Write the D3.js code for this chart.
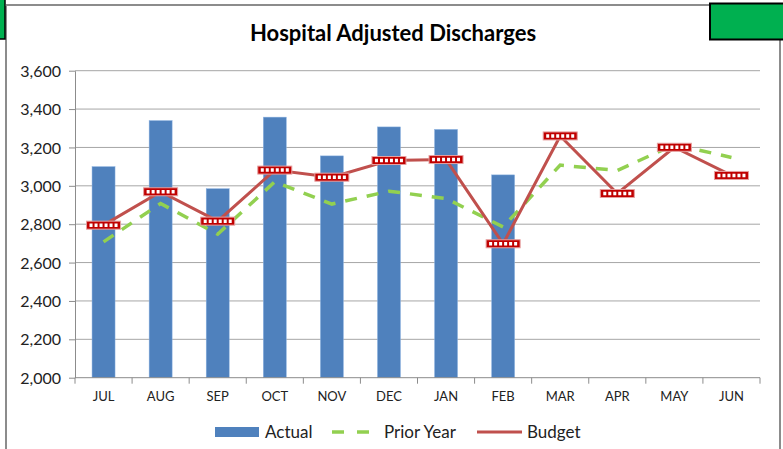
<!DOCTYPE html>
<meta charset="utf-8">
<script src="https://d3js.org/d3.v7.min.js"></script>
<style>
  body { margin: 0; background: #fff; }
  text { font-family: Lato, "Open Sans", sans-serif; fill: #222; }
</style>
<body></body>
<script>

var months = ["JUL", "AUG", "SEP", "OCT", "NOV", "DEC", "JAN", "FEB", "MAR", "APR", "MAY", "JUN"];
var actual = [3100, 3340, 2985, 3358, 3156, 3307, 3294, 3057];
var priorYear = [2708, 2908, 2748, 3021, 2905, 2972, 2934, 2786, 3108, 3080, 3215, 3148];
var budget = [2795, 2969, 2816, 3082, 3045, 3132, 3137, 2698, 3260, 2960, 3201, 3054];
var yTicks = [2000, 2200, 2400, 2600, 2800, 3000, 3200, 3400, 3600];

var W = 783, H = 449;
var plotLeft = 75, plotRight = 760, plotTop = 70.7, plotBottom = 377.7;

var svg = d3.select("body").append("svg")
  .attr("width", W)
  .attr("height", H);

// outer frame and the green boxes
svg.append("rect").attr("x", 0).attr("y", 0).attr("width", W).attr("height", H).attr("fill", "#fff");
svg.append("line").attr("x1", 6).attr("x2", 6).attr("y1", 6).attr("y2", H).attr("stroke", "#8c8c8c").attr("stroke-width", 2);
svg.append("line").attr("x1", 6).attr("x2", 780).attr("y1", 5).attr("y2", 5).attr("stroke", "#8c8c8c").attr("stroke-width", 2);
svg.append("line").attr("x1", 780).attr("x2", 780).attr("y1", 5).attr("y2", H).attr("stroke", "#8c8c8c").attr("stroke-width", 2);
svg.append("rect").attr("x", -2).attr("y", -2).attr("width", 7).attr("height", 41)
  .attr("fill", "#00b050").attr("stroke", "#000").attr("stroke-width", 1.5);
svg.append("rect").attr("x", 710).attr("y", 3.5).attr("width", 76).attr("height", 36)
  .attr("fill", "#00b050").attr("stroke", "#000").attr("stroke-width", 2);

svg.append("text")
  .attr("x", 393).attr("y", 41)
  .attr("text-anchor", "middle")
  .style("font-size", "22px")
  .style("font-weight", "bold")
  .style("fill", "#000")
  .text("Hospital Adjusted Discharges");

var x = d3.scaleBand().domain(months).range([plotLeft, plotRight]);
var y = d3.scaleLinear().domain([2000, 3600]).range([plotBottom, plotTop]);

// gridlines
svg.append("g")
  .selectAll("line")
  .data(yTicks.slice(1))
  .enter().append("line")
  .attr("x1", plotLeft).attr("x2", plotRight)
  .attr("y1", d => y(d)).attr("y2", d => y(d))
  .attr("stroke", "#a6a6a6").attr("stroke-width", 1);

var yAxis = d3.axisLeft(y).tickValues(yTicks).tickFormat(d3.format(",")).tickSizeInner(6).tickSizeOuter(0);
var yAxisGroup = svg.append("g")
  .attr("transform", `translate(${plotLeft},0)`)
  .call(yAxis);
yAxisGroup.select(".domain").attr("stroke", "#8c8c8c");
yAxisGroup.selectAll(".tick line").attr("stroke", "#8c8c8c");
yAxisGroup.selectAll("text").attr("x", -14).attr("dy", "0.35em")
  .style("font-size", "16px").style("font-family", "Lato, sans-serif").style("fill", "#222");

// bars
var barW = 23;
svg.selectAll(".bar")
  .data(actual)
  .enter().append("rect")
  .attr("class", "bar")
  .attr("x", (d, i) => x(months[i]) + x.bandwidth() / 2 - barW / 2)
  .attr("y", d => y(d))
  .attr("width", barW)
  .attr("height", d => plotBottom - y(d))
  .attr("fill", "#4f81bd")
  .attr("stroke", "#8db3e2")
  .attr("stroke-width", 0.5);

// x axis
var xAxisGroup = svg.append("g")
  .attr("transform", `translate(0,${plotBottom})`);
xAxisGroup.append("line").attr("x1", plotLeft).attr("x2", plotRight).attr("stroke", "#8c8c8c");
xAxisGroup.selectAll(".xt")
  .data(months.concat(["end"]))
  .enter().append("line")
  .attr("x1", (d, i) => plotLeft + i * x.bandwidth())
  .attr("x2", (d, i) => plotLeft + i * x.bandwidth())
  .attr("y1", 0).attr("y2", 6)
  .attr("stroke", "#8c8c8c");
xAxisGroup.selectAll("text")
  .data(months)
  .enter().append("text")
  .attr("x", d => x(d) + x.bandwidth() / 2)
  .attr("y", 23)
  .attr("text-anchor", "middle")
  .style("font-size", "13px")
  .text(d => d);

var cx = i => x(months[i]) + x.bandwidth() / 2;

// prior year dashed line
svg.append("path")
  .datum(priorYear)
  .attr("d", d3.line().x((d, i) => cx(i)).y(d => y(d)))
  .attr("fill", "none")
  .attr("stroke", "#92d050")
  .attr("stroke-width", 3.5)
  .attr("stroke-dasharray", "12,10");

// budget line
svg.append("path")
  .datum(budget)
  .attr("d", d3.line().x((d, i) => cx(i)).y(d => y(d)))
  .attr("fill", "none")
  .attr("stroke", "#c0504d")
  .attr("stroke-width", 3);

// budget markers
var mk = svg.selectAll(".mk")
  .data(budget)
  .enter().append("g")
  .attr("transform", (d, i) => `translate(${cx(i)},${y(d)})`);
mk.append("rect")
  .attr("x", -17).attr("y", -4)
  .attr("width", 34).attr("height", 8)
  .attr("fill", "#c00000")
  .attr("stroke", "#e6a0a0")
  .attr("stroke-width", 1);
mk.append("line")
  .attr("x1", -14).attr("x2", 15)
  .attr("stroke", "#fff")
  .attr("stroke-width", 3.5)
  .attr("stroke-dasharray", "3,2");

// legend
var lg = svg.append("g").attr("transform", "translate(0,432)");
lg.append("rect").attr("x", 215).attr("y", -5).attr("width", 44).attr("height", 10).attr("fill", "#4f81bd");
lg.append("text").attr("x", 265).attr("y", 0).attr("dy", "0.35em").style("font-size", "17px").text("Actual");
lg.append("line").attr("x1", 332).attr("x2", 369).attr("stroke", "#92d050").attr("stroke-width", 3.5).attr("stroke-dasharray", "12,13");
lg.append("text").attr("x", 384).attr("y", 0).attr("dy", "0.35em").style("font-size", "17px").text("Prior Year");
lg.append("line").attr("x1", 477).attr("x2", 522).attr("stroke", "#c0504d").attr("stroke-width", 3);
lg.append("text").attr("x", 527).attr("y", 0).attr("dy", "0.35em").style("font-size", "17px").text("Budget");

</script>
